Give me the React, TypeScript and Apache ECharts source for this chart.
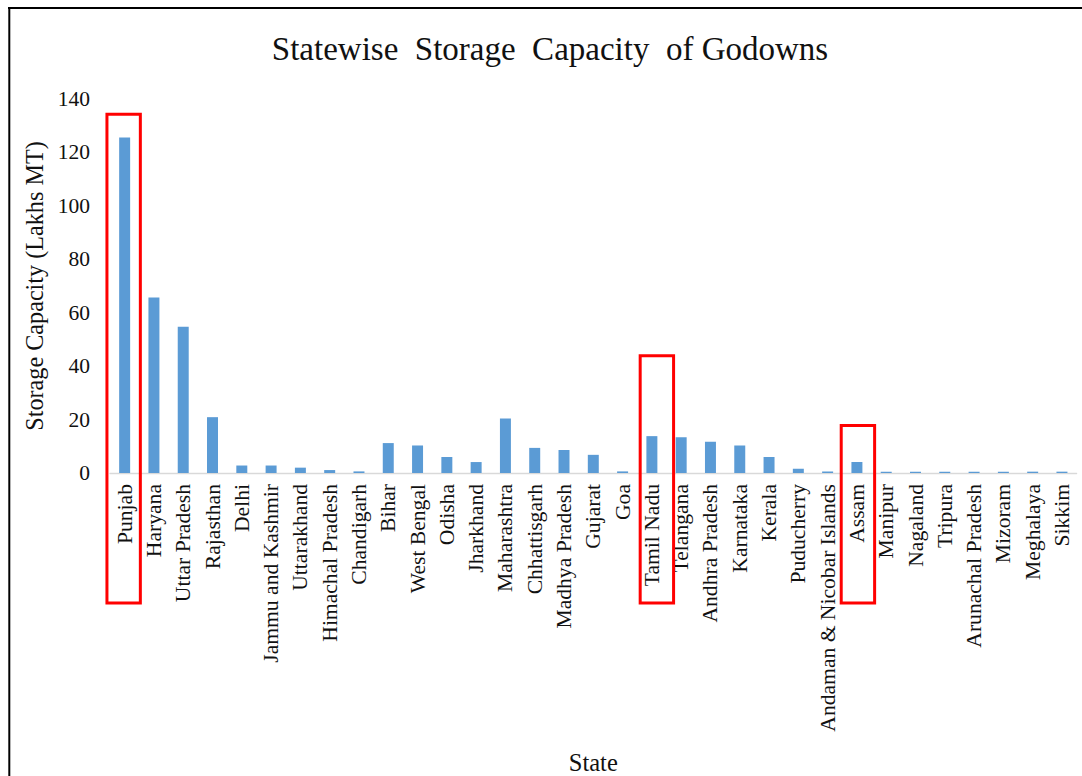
import { useEffect, useRef } from "react";
import * as echarts from "echarts";

// Statewise storage capacity of godowns (Lakhs MT)
const states = [
  "Punjab",
  "Haryana",
  "Uttar Pradesh",
  "Rajasthan",
  "Delhi",
  "Jammu and Kashmir",
  "Uttarakhand",
  "Himachal Pradesh",
  "Chandigarh",
  "Bihar",
  "West Bengal",
  "Odisha",
  "Jharkhand",
  "Maharashtra",
  "Chhattisgarh",
  "Madhya Pradesh",
  "Gujarat",
  "Goa",
  "Tamil Nadu",
  "Telangana",
  "Andhra Pradesh",
  "Karnataka",
  "Kerala",
  "Puducherry",
  "Andaman & Nicobar Islands",
  "Assam",
  "Manipur",
  "Nagaland",
  "Tripura",
  "Arunachal Pradesh",
  "Mizoram",
  "Meghalaya",
  "Sikkim",
];

const capacity = [
  125.6, 65.7, 54.7, 20.9, 2.8, 2.8, 2.0, 1.1, 0.6, 11.2, 10.3, 6.0, 4.1, 20.4,
  9.4, 8.6, 6.8, 0.6, 13.8, 13.4, 11.7, 10.3, 6.0, 1.6, 0.6, 4.1, 0.5, 0.5, 0.5,
  0.5, 0.5, 0.5, 0.5,
];

// Value axis range
const yMin = 0;
const yMax = 140;
const yStep = 20;

// States called out with a red frame, and the axis value at each frame's top edge
const calloutStates = ["Punjab", "Tamil Nadu", "Assam"];
const calloutTops = [134.3, 43.9, 17.8];

const FONT = "'Liberation Serif', 'Times New Roman', serif";
const BAR_BLUE = "#5B9BD5";

export default function App() {
  const ref = useRef<HTMLDivElement>(null);

  useEffect(() => {
    if (!ref.current) return;
    const chart = echarts.init(ref.current, undefined, { renderer: "svg" });

    chart.setOption({
      animation: false,
      backgroundColor: "#ffffff",
      title: {
        text: "Statewise  Storage  Capacity  of Godowns",
        left: 545,
        top: 27,
        textAlign: "center",
        textStyle: {
          fontFamily: FONT,
          fontSize: 33,
          fontWeight: "normal",
          color: "#111",
        },
      },
      grid: {
        left: 110,
        right: 5.4,
        top: 99,
        bottom: 301.7,
        containLabel: false,
      },
      xAxis: {
        type: "category",
        data: states,
        name: "State",
        nameLocation: "middle",
        nameGap: 277,
        nameTextStyle: { fontFamily: FONT, fontSize: 24.5, color: "#111" },
        axisLine: { lineStyle: { color: "#D9D9D9", width: 1.3 } },
        axisTick: { show: false },
        axisLabel: {
          interval: 0,
          rotate: 90,
          margin: 11,
          fontFamily: FONT,
          fontSize: 21.6,
          color: "#111",
        },
      },
      yAxis: {
        type: "value",
        min: yMin,
        max: yMax,
        interval: yStep,
        name: "Storage Capacity (Lakhs MT)",
        nameLocation: "middle",
        nameGap: 62,
        nameTextStyle: { fontFamily: FONT, fontSize: 24.2, color: "#111" },
        axisLine: { show: false },
        axisTick: { show: false },
        splitLine: { show: false },
        axisLabel: {
          margin: 20,
          fontFamily: FONT,
          fontSize: 21.5,
          color: "#111",
        },
      },
      series: [
        {
          type: "bar",
          data: capacity,
          barWidth: "37.5%",
          itemStyle: { color: BAR_BLUE },
        },
      ],
    });

    // Red callout frames around selected states, plus the outer chart frame
    const frameHalfWidth = 16.7;
    const frameShift = [-1, 5, 1];
    const frameBottom = 603;
    const callouts = calloutStates.map((name, i) => {
      const cx = chart.convertToPixel({ xAxisIndex: 0 }, name) as number;
      const top = chart.convertToPixel({ yAxisIndex: 0 }, calloutTops[i]) as number;
      return {
        type: "rect",
        shape: {
          x: cx + frameShift[i] - frameHalfWidth,
          y: top,
          width: frameHalfWidth * 2,
          height: frameBottom - top,
        },
        style: { fill: "none", stroke: "#FF0000", lineWidth: 3 },
        z: 10,
      };
    });

    chart.setOption({
      graphic: [
        {
          type: "line",
          shape: { x1: 8, y1: 8, x2: 1090, y2: 8 },
          style: { stroke: "#000", lineWidth: 2 },
        },
        {
          type: "line",
          shape: { x1: 9.3, y1: 7, x2: 9.3, y2: 790 },
          style: { stroke: "#000", lineWidth: 2 },
        },
        ...callouts,
      ],
    });

    return () => chart.dispose();
  }, []);

  return (
    <div
      ref={ref}
      style={{ position: "absolute", left: 0, top: 0, width: 1082, height: 776 }}
    />
  );
}
